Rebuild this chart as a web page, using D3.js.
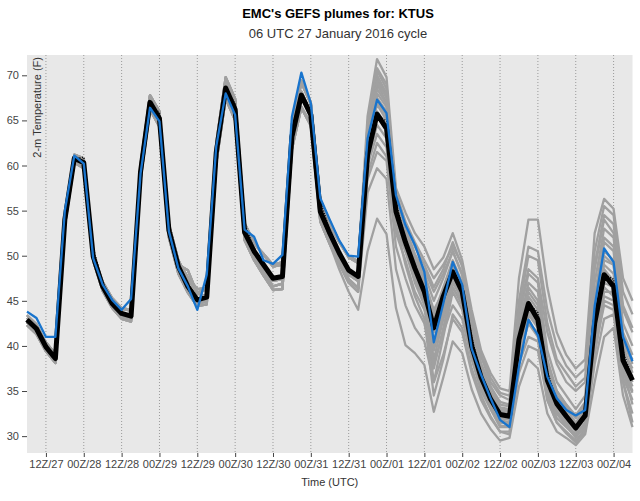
<!DOCTYPE html>
<html>
<head>
<meta charset="utf-8">
<script src="https://cdn.jsdelivr.net/npm/d3@7.9.0/dist/d3.min.js"></script>
<style>
  body { margin: 0; background: #fff; }
  text { font-family: "Liberation Sans", Arial, sans-serif; }
</style>
</head>
<body>
<div id="chart"></div>
<script>
// forecast cycle: 06 UTC 27 Jan 2016, 3-hourly output
const cycleStart = Date.UTC(2016, 0, 27, 6);
const stepHours = 3;

// ensemble mean (black)
const ensMean = [42.9, 41.9, 39.9, 38.6, 54.0, 60.8, 60.3, 49.9, 46.6, 44.7, 43.6, 43.3,
  59.3, 67.0, 65.2, 52.8, 48.8, 46.6, 45.1, 45.4, 61.4, 68.6, 66.2, 52.6,
  50.5, 49.0, 47.5, 47.7, 63.2, 67.8, 65.6, 54.9, 52.5, 50.3, 48.4, 47.7,
  61.2, 65.7, 64.1, 54.9, 51.5, 48.6, 46.0, 42.0, 45.5, 48.2, 46.0, 40.0,
  36.5, 34.1, 32.4, 32.2, 40.7, 44.7, 42.9, 36.2, 33.6, 32.2, 30.9, 32.3,
  42.5, 47.9, 46.6, 38.4, 36.2];

// control run (black dotted)
const ensCtl = [42.9, 41.9, 39.9, 38.6, 54.0, 60.8, 60.9, 50.9, 46.8, 44.8, 43.7, 43.4,
  59.3, 67.0, 65.8, 53.8, 49.1, 46.8, 45.2, 45.5, 61.4, 68.6, 66.8, 53.6,
  50.7, 49.1, 47.6, 47.8, 63.2, 67.8, 66.4, 56.1, 52.8, 50.5, 48.5, 47.8,
  61.2, 65.7, 64.9, 55.9, 51.8, 48.8, 46.1, 42.1, 45.5, 48.2, 46.8, 41.0,
  36.7, 34.2, 32.5, 32.3, 40.7, 44.7, 43.7, 37.2, 33.8, 32.3, 31.0, 32.4,
  42.5, 47.9, 47.4, 39.4, 36.4];

// blue line
const gfsRun = [43.8, 43.1, 41.0, 41.0, 55.0, 61.1, 60.2, 49.7, 46.8, 45.1, 44.0, 45.2,
  59.1, 66.4, 64.9, 52.7, 48.6, 46.6, 44.0, 47.9, 62.1, 68.0, 65.6, 52.9,
  52.1, 49.5, 49.1, 50.1, 65.4, 70.3, 66.9, 56.4, 54.0, 51.7, 50.0, 49.9,
  63.0, 67.3, 65.8, 56.7, 53.4, 51.2, 48.2, 40.4, 44.7, 49.3, 46.8, 39.7,
  36.8, 34.2, 31.8, 31.0, 37.7, 42.9, 41.2, 36.6, 34.2, 32.9, 32.3, 32.9,
  44.4, 50.8, 49.3, 41.0, 38.3];

// ensemble members (gray)
const m01 = [43.4, 42.4, 40.3, 39.2, 54.5, 61.2, 60.8, 50.3, 47.0, 45.2, 44.1, 43.9, 60.1, 67.8, 66.0, 53.5, 49.5, 47.4, 45.9, 46.3, 62.5, 69.8, 67.4, 53.6, 51.5, 50.1, 48.8, 49.0, 64.6, 69.4, 67.0, 56.2, 53.8, 51.6, 49.8, 49.2,
  65.5, 71.8, 69.8, 57.5, 54.8, 52.5, 51.0, 48.5, 49.8, 52.5, 49.5, 44.0, 39.5, 37.0, 35.3, 35.0, 47.5, 54.0, 54.0, 46.5, 41.5, 39.0, 37.5, 38.5, 52.5, 56.3, 55.2, 47.5, 45.0];
const m02 = [42.7, 41.7, 39.6, 38.4, 54.3, 61.0, 60.6, 49.7, 46.3, 44.4, 43.3, 43.0, 59.8, 67.6, 65.9, 52.9, 48.5, 46.1, 44.6, 45.0, 62.0, 69.6, 67.2, 52.9, 50.0, 48.2, 46.6, 46.9, 64.0, 69.2, 66.8, 55.1, 52.0, 49.6, 47.4, 46.4,
  64.5, 70.5, 68.5, 56.8, 53.5, 51.0, 49.0, 46.5, 48.5, 51.5, 48.8, 43.0, 38.8, 36.0, 34.5, 34.0, 45.0, 51.0, 50.5, 44.0, 40.0, 37.8, 36.5, 37.5, 50.5, 55.5, 54.5, 46.0, 43.5];
const m03 = [42.6, 41.6, 39.7, 38.5, 54.2, 60.9, 60.2, 49.6, 46.9, 45.0, 43.5, 43.1, 59.6, 67.3, 65.5, 52.5, 49.0, 48.4, 45.8, 45.5, 61.6, 68.9, 66.5, 52.4, 50.8, 48.6, 47.2, 47.4, 63.6, 68.2, 65.9, 54.6, 52.2, 49.8, 47.9, 47.2,
  63.8, 69.6, 67.7, 56.0, 53.0, 50.2, 48.0, 45.0, 47.5, 50.5, 47.8, 42.0, 38.0, 35.5, 33.8, 33.5, 43.5, 48.5, 47.5, 41.5, 38.0, 36.0, 35.0, 36.0, 48.5, 54.0, 52.5, 44.0, 41.5];
const m04 = [42.3, 41.3, 39.4, 38.1, 53.3, 60.3, 59.7, 49.4, 46.1, 44.2, 43.0, 42.7, 58.4, 66.2, 64.3, 52.0, 48.0, 45.9, 44.4, 44.6, 60.2, 67.4, 65.0, 51.7, 49.5, 47.8, 46.2, 46.3, 61.8, 66.4, 64.4, 53.8, 51.3, 48.5, 46.0, 44.0,
  50.5, 54.1, 52.4, 44.2, 40.1, 39.2, 37.9, 32.7, 36.5, 40.5, 39.2, 35.2, 32.5, 30.8, 29.5, 29.8, 35.5, 38.5, 37.5, 32.5, 30.5, 29.8, 29.0, 30.2, 36.0, 41.0, 42.0, 34.5, 31.0];
const m05 = [42.3, 41.3, 39.4, 38.1, 53.3, 60.3, 59.7, 49.4, 46.1, 44.2, 43.0, 42.7, 58.4, 66.2, 64.3, 52.0, 48.0, 45.9, 44.4, 44.6, 60.2, 67.4, 65.0, 51.7, 49.5, 47.8, 46.2, 46.3, 61.8, 66.4, 64.4, 53.8, 51.3, 49.1, 47.0, 46.0,
  57.0, 59.7, 58.5, 48.5, 44.5, 42.0, 40.5, 36.0, 39.0, 43.0, 41.5, 37.0, 34.0, 32.0, 30.5, 30.5, 37.0, 40.0, 39.5, 34.0, 31.5, 30.5, 29.5, 30.8, 38.0, 43.0, 43.5, 36.0, 32.5];
const m06 = [43.1, 42.2, 40.4, 39.1, 53.6, 60.5, 59.9, 50.2, 47.1, 45.3, 44.2, 44.0, 58.9, 66.3, 64.6, 53.0, 49.4, 47.6, 46.3, 46.4, 60.8, 67.4, 65.3, 52.8, 51.3, 50.2, 49.0, 49.3, 62.3, 66.5, 64.6, 55.3, 53.4, 51.5, 49.9, 49.4,
  58.5, 61.5, 60.5, 51.0, 47.5, 44.5, 42.5, 38.0, 41.5, 44.5, 43.0, 38.5, 35.0, 33.0, 31.2, 31.0, 38.0, 41.0, 40.5, 34.5, 32.0, 31.0, 30.0, 31.0, 39.5, 44.5, 44.0, 36.5, 34.0];
const m07 = [42.6, 41.6, 39.7, 38.5, 54.2, 60.9, 60.2, 49.6, 46.9, 45.0, 43.5, 43.1, 59.6, 67.3, 65.5, 52.5, 49.0, 48.4, 45.8, 45.5, 61.6, 68.9, 66.5, 52.4, 50.8, 48.6, 47.2, 47.4, 63.6, 68.2, 65.9, 54.6, 52.2, 49.8, 47.9, 47.2,
  60.0, 63.5, 62.0, 52.5, 49.5, 46.0, 44.0, 40.0, 43.0, 46.5, 44.5, 39.0, 35.5, 33.2, 31.5, 31.4, 39.0, 42.5, 41.5, 35.0, 32.5, 31.2, 30.2, 31.5, 40.5, 45.5, 45.0, 37.0, 34.8];
const m08 = [43.4, 42.4, 40.3, 39.2, 54.5, 61.2, 60.8, 50.3, 47.0, 45.2, 44.1, 43.9, 60.1, 67.8, 66.0, 53.5, 49.5, 47.4, 45.9, 46.3, 62.5, 69.8, 67.4, 53.6, 51.5, 50.1, 48.8, 49.0, 64.6, 69.4, 67.0, 56.2, 53.8, 51.6, 49.8, 49.2,
  62.0, 66.8, 65.0, 55.5, 52.5, 49.5, 47.0, 43.5, 46.5, 49.5, 47.0, 41.0, 37.0, 34.8, 33.0, 32.8, 41.5, 45.5, 44.0, 37.0, 34.5, 33.0, 31.5, 33.0, 43.5, 49.0, 48.0, 39.5, 37.5];
const m09 = [42.7, 41.7, 39.6, 38.4, 54.3, 61.0, 60.6, 49.7, 46.3, 44.4, 43.3, 43.0, 59.8, 67.6, 65.9, 52.9, 48.5, 46.1, 44.6, 45.0, 62.0, 69.6, 67.2, 52.9, 50.0, 48.2, 46.6, 46.9, 64.0, 69.2, 66.8, 55.1, 52.0, 49.6, 47.4, 46.4,
  62.8, 68.0, 66.5, 56.5, 53.0, 50.0, 47.5, 41.5, 45.0, 49.0, 46.5, 40.5, 36.8, 34.3, 32.8, 32.5, 42.0, 47.0, 46.0, 38.5, 35.0, 33.5, 32.0, 33.5, 45.0, 50.5, 49.5, 40.5, 38.5];
const m10 = [43.1, 42.2, 40.4, 39.1, 53.6, 60.5, 59.9, 50.2, 47.1, 45.3, 44.2, 44.0, 58.9, 66.3, 64.6, 53.0, 49.4, 47.6, 46.3, 46.4, 60.8, 67.4, 65.3, 52.8, 51.3, 50.2, 49.0, 49.3, 62.3, 66.5, 64.6, 55.3, 53.4, 51.5, 49.9, 49.4,
  63.0, 69.0, 67.0, 55.0, 51.0, 48.0, 45.5, 38.5, 43.0, 47.5, 45.0, 39.5, 36.0, 33.6, 31.8, 31.5, 41.0, 45.0, 43.5, 36.5, 33.5, 32.0, 30.5, 32.0, 44.0, 51.5, 50.5, 40.0, 37.0];
const m11 = [42.7, 41.7, 39.6, 38.4, 54.3, 61.0, 60.6, 49.7, 46.3, 44.4, 43.3, 43.0, 59.8, 67.6, 65.9, 52.9, 48.5, 46.1, 44.6, 45.0, 62.0, 69.6, 67.2, 52.9, 50.0, 48.2, 46.6, 46.9, 64.0, 69.2, 66.8, 55.1, 52.0, 49.6, 47.4, 46.4,
  64.0, 70.0, 68.0, 54.5, 50.5, 47.0, 44.5, 36.0, 41.0, 46.0, 44.0, 39.0, 35.5, 33.0, 31.0, 31.0, 40.0, 44.0, 42.0, 35.5, 32.8, 31.5, 30.0, 31.5, 42.0, 49.5, 49.0, 39.0, 36.0];
const m12 = [43.4, 42.4, 40.3, 39.2, 54.5, 61.2, 60.8, 50.3, 47.0, 45.2, 44.1, 43.9, 60.1, 67.8, 66.0, 53.5, 49.5, 47.4, 45.9, 46.3, 62.5, 69.8, 67.4, 53.6, 51.5, 50.1, 48.8, 49.0, 64.6, 69.4, 67.0, 56.2, 53.8, 51.6, 49.8, 49.2,
  63.5, 69.3, 67.5, 53.5, 49.0, 45.5, 43.0, 34.5, 38.5, 43.5, 42.0, 37.5, 34.5, 32.2, 30.5, 30.2, 38.5, 43.0, 41.0, 34.0, 31.5, 30.3, 29.3, 30.5, 40.0, 46.0, 46.0, 37.5, 33.5];
const m13 = [43.1, 42.2, 40.4, 39.1, 53.6, 60.5, 59.9, 50.2, 47.1, 45.3, 44.2, 44.0, 58.9, 66.3, 64.6, 53.0, 49.4, 47.6, 46.3, 46.4, 60.8, 67.4, 65.3, 52.8, 51.3, 50.2, 49.0, 49.3, 62.3, 66.5, 64.6, 55.3, 53.4, 51.5, 49.9, 49.4,
  61.5, 66.0, 64.5, 55.8, 52.8, 50.0, 48.5, 46.0, 48.0, 50.5, 48.0, 42.5, 38.0, 35.5, 33.5, 33.3, 43.0, 48.0, 47.0, 39.5, 36.0, 34.5, 33.0, 34.5, 47.0, 53.0, 52.0, 42.5, 40.0];
const m14 = [42.3, 41.3, 39.4, 38.1, 53.3, 60.3, 59.7, 49.4, 46.1, 44.2, 43.0, 42.7, 58.4, 66.2, 64.3, 52.0, 48.0, 45.9, 44.4, 44.6, 60.2, 67.4, 65.0, 51.7, 49.5, 47.8, 46.2, 46.3, 61.8, 66.4, 64.4, 53.8, 51.3, 49.1, 47.0, 46.0,
  60.5, 64.5, 63.0, 54.0, 51.5, 49.0, 47.2, 44.0, 46.0, 48.5, 46.5, 41.5, 37.5, 35.0, 33.2, 33.0, 42.0, 46.5, 45.0, 38.0, 35.0, 33.5, 32.3, 33.8, 45.5, 52.0, 51.0, 41.5, 39.0];
const m15 = [42.6, 41.6, 39.7, 38.5, 54.2, 60.9, 60.2, 49.6, 46.9, 45.0, 43.5, 43.1, 59.6, 67.3, 65.5, 52.5, 49.0, 48.4, 45.8, 45.5, 61.6, 68.9, 66.5, 52.4, 50.8, 48.6, 47.2, 47.4, 63.6, 68.2, 65.9, 54.6, 52.2, 49.8, 47.9, 47.2,
  62.5, 67.5, 66.0, 56.2, 52.0, 48.8, 46.5, 42.5, 46.0, 49.0, 46.8, 40.8, 37.2, 34.5, 32.6, 32.4, 40.5, 44.5, 43.0, 36.8, 34.0, 32.6, 31.2, 32.8, 41.5, 47.0, 46.5, 38.0, 35.5];
const m16 = [42.3, 41.3, 39.4, 38.1, 53.3, 60.3, 59.7, 49.4, 46.1, 44.2, 43.0, 42.7, 58.4, 66.2, 64.3, 52.0, 48.0, 45.9, 44.4, 44.6, 60.2, 67.4, 65.0, 51.7, 49.5, 47.8, 46.2, 46.3, 61.8, 66.4, 64.4, 53.8, 51.3, 49.1, 47.0, 46.0,
  61.8, 67.0, 65.5, 55.2, 51.8, 48.2, 45.8, 40.5, 44.0, 47.8, 45.5, 39.8, 36.3, 33.8, 32.0, 31.8, 39.5, 43.5, 42.0, 35.8, 33.2, 31.8, 30.6, 32.2, 41.0, 46.5, 45.5, 37.5, 35.0];
const m17 = [43.4, 42.4, 40.3, 39.2, 54.5, 61.2, 60.8, 50.3, 47.0, 45.2, 44.1, 43.9, 60.1, 67.8, 66.0, 53.5, 49.5, 47.4, 45.9, 46.3, 62.5, 69.8, 67.4, 53.6, 51.5, 50.1, 48.8, 49.0, 64.6, 69.4, 67.0, 56.2, 53.8, 51.6, 49.8, 49.2,
  63.2, 68.5, 66.8, 57.0, 53.8, 51.5, 49.5, 47.5, 49.0, 51.0, 49.0, 43.5, 39.0, 36.5, 34.8, 34.5, 44.0, 50.0, 49.5, 42.5, 38.5, 37.0, 35.5, 36.5, 49.0, 54.5, 53.5, 44.5, 42.0];
const m18 = [43.1, 42.2, 40.4, 39.1, 53.6, 60.5, 59.9, 50.2, 47.1, 45.3, 44.2, 44.0, 58.9, 66.3, 64.6, 53.0, 49.4, 47.6, 46.3, 46.4, 60.8, 67.4, 65.3, 52.8, 51.3, 50.2, 49.0, 49.3, 62.3, 66.5, 64.6, 55.3, 53.4, 51.5, 49.9, 49.4,
  59.0, 62.5, 61.0, 53.0, 50.5, 48.0, 46.5, 43.0, 45.5, 47.5, 45.8, 40.5, 36.8, 34.5, 32.8, 32.6, 41.5, 46.0, 44.5, 37.5, 34.5, 33.2, 32.0, 33.2, 44.5, 50.0, 49.0, 40.5, 38.0];
const m19 = [42.7, 41.7, 39.6, 38.4, 54.3, 61.0, 60.6, 49.7, 46.3, 44.4, 43.3, 43.0, 59.8, 67.6, 65.9, 52.9, 48.5, 46.1, 44.6, 45.0, 62.0, 69.6, 67.2, 52.9, 50.0, 48.2, 46.6, 46.9, 64.0, 69.2, 66.8, 55.1, 52.0, 49.6, 47.4, 46.4,
  64.8, 70.8, 69.0, 55.5, 51.2, 47.5, 45.0, 37.5, 42.0, 46.5, 44.8, 39.2, 35.8, 33.4, 31.6, 31.3, 39.0, 42.5, 41.0, 35.0, 32.5, 31.2, 29.8, 31.3, 39.0, 45.0, 44.5, 36.0, 31.5];
const m20 = [42.6, 41.6, 39.7, 38.5, 54.2, 60.9, 60.2, 49.6, 46.9, 45.0, 43.5, 43.1, 59.6, 67.3, 65.5, 52.5, 49.0, 48.4, 45.8, 45.5, 61.6, 68.9, 66.5, 52.4, 50.8, 48.6, 47.2, 47.4, 63.6, 68.2, 65.9, 54.6, 52.2, 49.8, 47.9, 47.2,
  62.2, 67.3, 65.8, 54.2, 50.8, 47.8, 45.2, 39.5, 43.5, 47.0, 45.2, 39.6, 36.0, 33.7, 32.2, 32.0, 40.2, 44.2, 42.6, 36.4, 33.8, 32.4, 31.0, 32.6, 42.8, 48.5, 47.2, 38.8, 36.6];

const members = [m01, m02, m03, m04, m05, m06, m07, m08, m09, m10,
                 m11, m12, m13, m14, m15, m16, m17, m18, m19, m20];

const yTicks = [30, 35, 40, 45, 50, 55, 60, 65, 70];
const yDomain = [28.13, 72.25];

const width = 640;
const height = 501;
const plot = { left: 27, right: 632.5, top: 55, bottom: 453 };

const svg = d3.select("#chart")
  .append("svg")
  .attr("width", width)
  .attr("height", height);

// time of each forecast step
const times = ensMean.map((d, i) => new Date(cycleStart + i * stepHours * 3600e3));

const x = d3.scaleUtc()
  .domain([times[0], times[times.length - 1]])
  .range([plot.left, plot.right]);

const y = d3.scaleLinear()
  .domain(yDomain)
  .range([plot.bottom, plot.top]);

// plot background
svg.append("rect")
  .attr("x", plot.left)
  .attr("y", plot.top)
  .attr("width", plot.right - plot.left)
  .attr("height", plot.bottom - plot.top)
  .attr("fill", "#e8e8e8");

const xTicks = d3.utcHour.every(12).range(times[0], times[times.length - 1]);

// dotted vertical grid
svg.append("g")
  .selectAll("line")
  .data(xTicks)
  .join("line")
  .attr("x1", d => x(d))
  .attr("x2", d => x(d))
  .attr("y1", plot.top)
  .attr("y2", plot.bottom)
  .attr("stroke", "#9a9a9a")
  .attr("stroke-width", 1)
  .attr("stroke-dasharray", "1,2");

// axes
const xAxis = d3.axisBottom(x)
  .tickValues(xTicks)
  .tickFormat(d3.utcFormat("%HZ/%d"))
  .tickSize(4)
  .tickPadding(3);

const gx = svg.append("g")
  .attr("transform", `translate(0,${plot.bottom})`)
  .call(xAxis);

const yAxis = d3.axisLeft(y)
  .tickValues(yTicks)
  .tickSize(5)
  .tickPadding(3);

const gy = svg.append("g")
  .attr("transform", `translate(${plot.left},0)`)
  .call(yAxis);

[gx, gy].forEach(g => {
  g.select(".domain").remove();
  g.selectAll(".tick line").attr("stroke", "#444");
  g.selectAll(".tick text")
    .attr("fill", "#444")
    .style("font-size", "11px")
    .style("font-family", "'Liberation Sans', Arial, sans-serif");
});

// lines
const line = d3.line()
  .x((d, i) => x(times[i]))
  .y(d => y(d));

svg.append("g")
  .selectAll("path")
  .data(members)
  .join("path")
  .attr("d", line)
  .attr("fill", "none")
  .attr("stroke", "#a0a0a0")
  .attr("stroke-width", 2.3)
  .attr("stroke-linejoin", "round");

svg.append("path")
  .datum(ensMean)
  .attr("d", line)
  .attr("fill", "none")
  .attr("stroke", "#000")
  .attr("stroke-width", 5)
  .attr("stroke-linejoin", "round");

svg.append("path")
  .datum(ensCtl)
  .attr("d", line)
  .attr("fill", "none")
  .attr("stroke", "#000")
  .attr("stroke-width", 1.5)
  .attr("stroke-dasharray", "1,1.5");

svg.append("path")
  .datum(gfsRun)
  .attr("d", line)
  .attr("fill", "none")
  .attr("stroke", "#1874cd")
  .attr("stroke-width", 2.3)
  .attr("stroke-linejoin", "round");

// titles
svg.append("text")
  .attr("x", 338)
  .attr("y", 17.5)
  .attr("text-anchor", "middle")
  .style("font-size", "13px")
  .style("font-weight", "bold")
  .attr("fill", "#000")
  .text("EMC's GEFS plumes for: KTUS");

svg.append("text")
  .attr("x", 338)
  .attr("y", 37.5)
  .attr("text-anchor", "middle")
  .style("font-size", "13px")
  .attr("fill", "#333")
  .text("06 UTC 27 January 2016 cycle");

svg.append("text")
  .attr("x", (plot.left + plot.right) / 2)
  .attr("y", 486)
  .attr("text-anchor", "middle")
  .style("font-size", "11px")
  .attr("fill", "#333")
  .text("Time (UTC)");

svg.append("text")
  .attr("transform", "translate(41,57) rotate(-90)")
  .attr("text-anchor", "end")
  .style("font-size", "11px")
  .attr("fill", "#333")
  .text("2-m Temperature (F)");
</script>
</body>
</html>
